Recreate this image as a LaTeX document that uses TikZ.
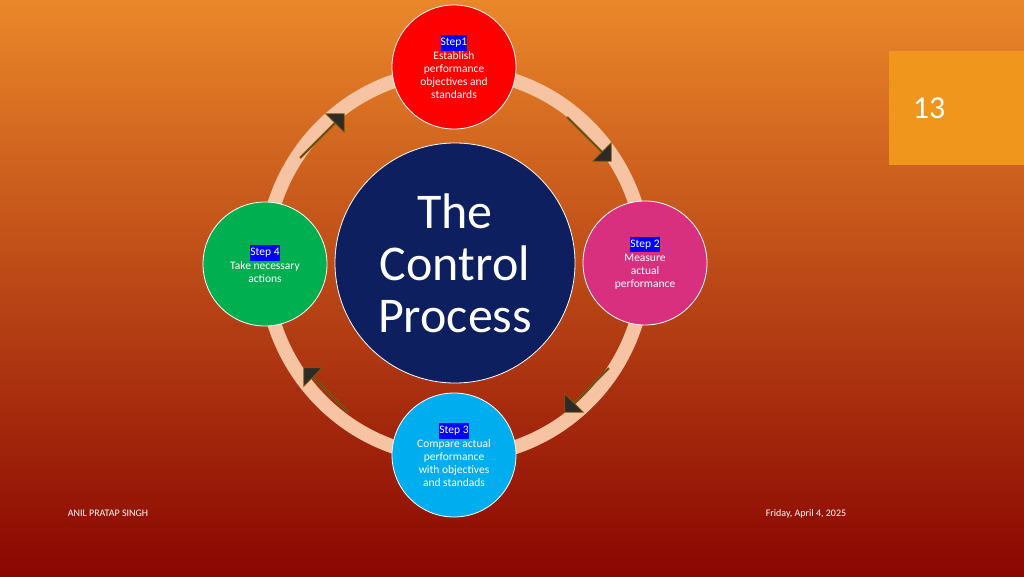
\documentclass[tikz,border=0pt]{standalone}
\usepackage{fontspec}
\setmainfont{Carlito}
\usetikzlibrary{shapes.arrows}
\definecolor{bgtop}{HTML}{EA872A}
\definecolor{bgbot}{HTML}{8A0602}
\definecolor{ringc}{HTML}{F6C3A3}
\definecolor{navyc}{HTML}{0D1F5E}
\definecolor{pinkc}{HTML}{D8307F}
\definecolor{cyanc}{HTML}{00AEEF}
\definecolor{greenc}{HTML}{00B050}
\definecolor{numbox}{HTML}{F0961C}
\definecolor{arrowc}{HTML}{2E2A26}
\definecolor{arrowb}{HTML}{7A5A10}
\tikzset{
  stepcircle/.style={circle, draw=white, line width=0.8pt, minimum size=124pt,
    text=white, align=center, font=\fontsize{11.5}{13}\selectfont},
  flowarrow/.style={single arrow, draw=arrowb, fill=arrowc, line width=0.8pt,
    minimum height=62pt, minimum width=26pt, single arrow head extend=7pt, inner sep=0pt}
}
\begin{document}
\begin{tikzpicture}[x=1pt, y=-1pt]
  \useasboundingbox (0,0) rectangle (1024,576);
  \shade[shading angle=45, top color=bgtop, bottom color=bgbot] (0,0) rectangle (1024,576);
  % ring
  \draw[ringc, line width=14pt] (455,264) ellipse (190 and 193);
  % arrows on the ring
  \node[flowarrow, rotate=-45] (a1) at (589,139) {};
  \node[flowarrow, rotate=-135] (a2) at (587,390) {};
  \node[flowarrow, rotate=135] (a3) at (326,390) {};
  \node[flowarrow, rotate=45] (a4) at (322,136) {};
  % centre
  \node[circle, draw=white, line width=0.8pt, fill=navyc, minimum size=240pt,
    text=white, align=center, font=\fontsize{50}{52}\selectfont] (centre) at (455,263)
    {The\\Control\\Process};
  % steps
  \node[stepcircle, fill=red] (s1) at (454,67)
    {\colorbox{blue}{\kern-3ptStep1\kern-3pt}\\[1pt]Establish\\performance\\objectives and\\standards};
  \node[stepcircle, fill=pinkc] (s2) at (645,263)
    {\colorbox{blue}{\kern-3ptStep 2\kern-3pt}\\[1pt]Measure\\actual\\performance};
  \node[stepcircle, fill=cyanc] (s3) at (454,455)
    {\colorbox{blue}{\kern-3ptStep 3\kern-3pt}\\[1pt]Compare actual\\performance\\with objectives\\and standads};
  \node[stepcircle, fill=greenc] (s4) at (265,264)
    {\colorbox{blue}{\kern-3ptStep 4\kern-3pt}\\[1pt]Take necessary\\actions};
  % page number
  \fill[numbox] (889,51) rectangle (1024,165);
  \node[text=white, font=\fontsize{32}{34}\selectfont] (num) at (929,108) {13};
  % footer
  \node[text=white, font=\fontsize{10}{12}\selectfont] (author) at (108,513) {ANIL PRATAP SINGH};
  \node[text=white, font=\fontsize{10}{12}\selectfont] (date) at (806,514) {Friday, April 4, 2025};
\end{tikzpicture}
\end{document}
